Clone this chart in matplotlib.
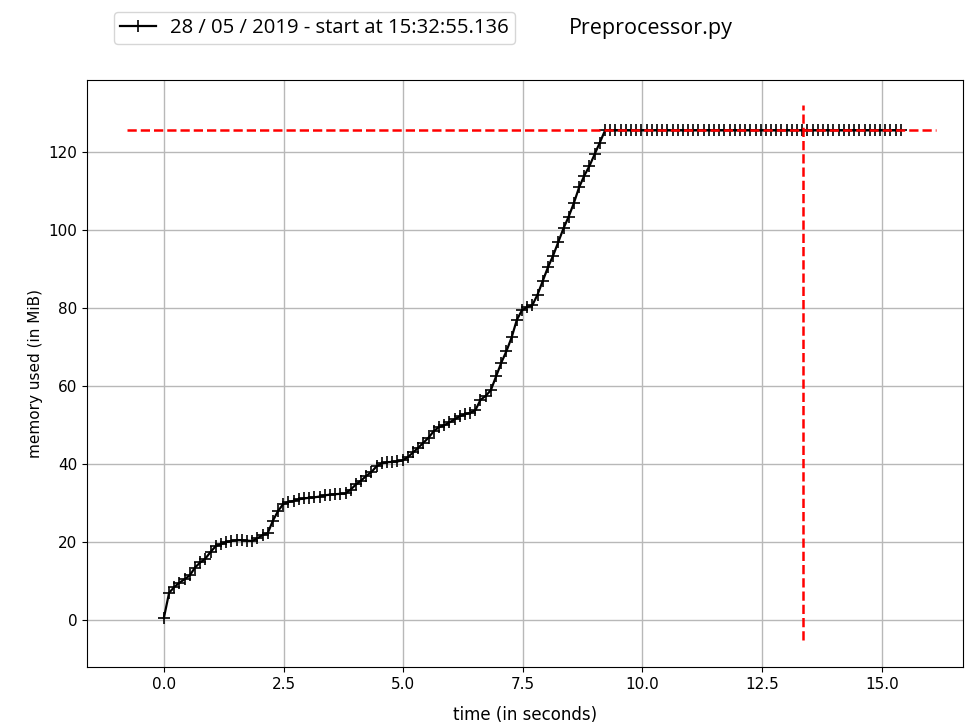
import numpy as np
import matplotlib.pyplot as plt

# memory samples (MiB), rising part then the plateau
mem_rise = [0.6, 7.0, 8.5, 9.6, 10.5, 11.5, 13.5, 14.8, 15.8, 17.5,
            19.0, 19.5, 20.0, 20.3, 20.5, 20.5, 20.4, 20.3, 21.0, 21.8,
            22.3, 25.5, 28.0, 29.8, 30.3, 30.6, 31.0, 31.2, 31.4, 31.5,
            31.7, 32.0, 32.2, 32.3, 32.4, 32.5, 33.5, 34.8, 35.8, 37.0,
            38.0, 39.5, 40.2, 40.5, 40.6, 40.7, 41.0, 41.8, 43.0, 44.2,
            45.5, 46.8, 48.5, 49.5, 50.0, 50.7, 51.5, 52.3, 52.8, 53.2,
            53.8, 56.5, 57.5, 59.0, 62.5, 66.0, 69.0, 72.5, 77.0, 79.5,
            80.3, 80.8, 83.5, 87.0, 90.5, 93.5, 97.0, 100.5, 103.5, 107.0,
            111.0, 114.0, 116.5, 119.5, 122.5, 125.6]
mem_flat = [125.6] * 57
mem = np.array(mem_rise + mem_flat)
t_end = 15.4
t = np.linspace(0, t_end, len(mem))

max_mem = 125.6
max_t = 13.35
hline_x = (-0.77, 16.13)
vline_y = (-5.1, 132.0)

label = '28 / 05 / 2019 - start at 15:32:55.136'
title = 'Preprocessor.py'

fig = plt.figure(figsize=(9.65, 7.22), dpi=100)
ax = fig.add_axes([0.090, 0.076, 0.908, 0.813])

ax.plot(t, mem, '+-', color='black', lw=1.6, ms=8.5, mew=1.2, label=label)
ax.hlines(max_mem, hline_x[0], hline_x[1], colors='r', linestyles='--', lw=1.8)
ax.vlines(max_t, vline_y[0], vline_y[1], colors='r', linestyles='--', lw=1.8)

ax.set_xlim(-1.61, 16.7)
ax.set_ylim(-12.05, 138.5)
ax.set_xticks(np.arange(0, 15.1, 2.5))
ax.set_yticks(np.arange(0, 121, 20))
ax.tick_params(labelsize=11)
ax.grid(True, color='#b8b8b8', lw=1)
ax.set_xlabel('time (in seconds)', fontsize=12, labelpad=10)
ax.set_ylabel('memory used (in MiB)', fontsize=11)

fig.legend(loc='upper left', bbox_to_anchor=(0.108, 0.997),
           prop={'family': 'Open Sans', 'size': 14.6}, handlelength=1.75,
           handletextpad=0.7, borderpad=0.3)
fig.text(0.674, 0.961, title, ha='center', va='center',
         fontsize=15.5, family='Open Sans')

fig.savefig('out.png', dpi=100)
